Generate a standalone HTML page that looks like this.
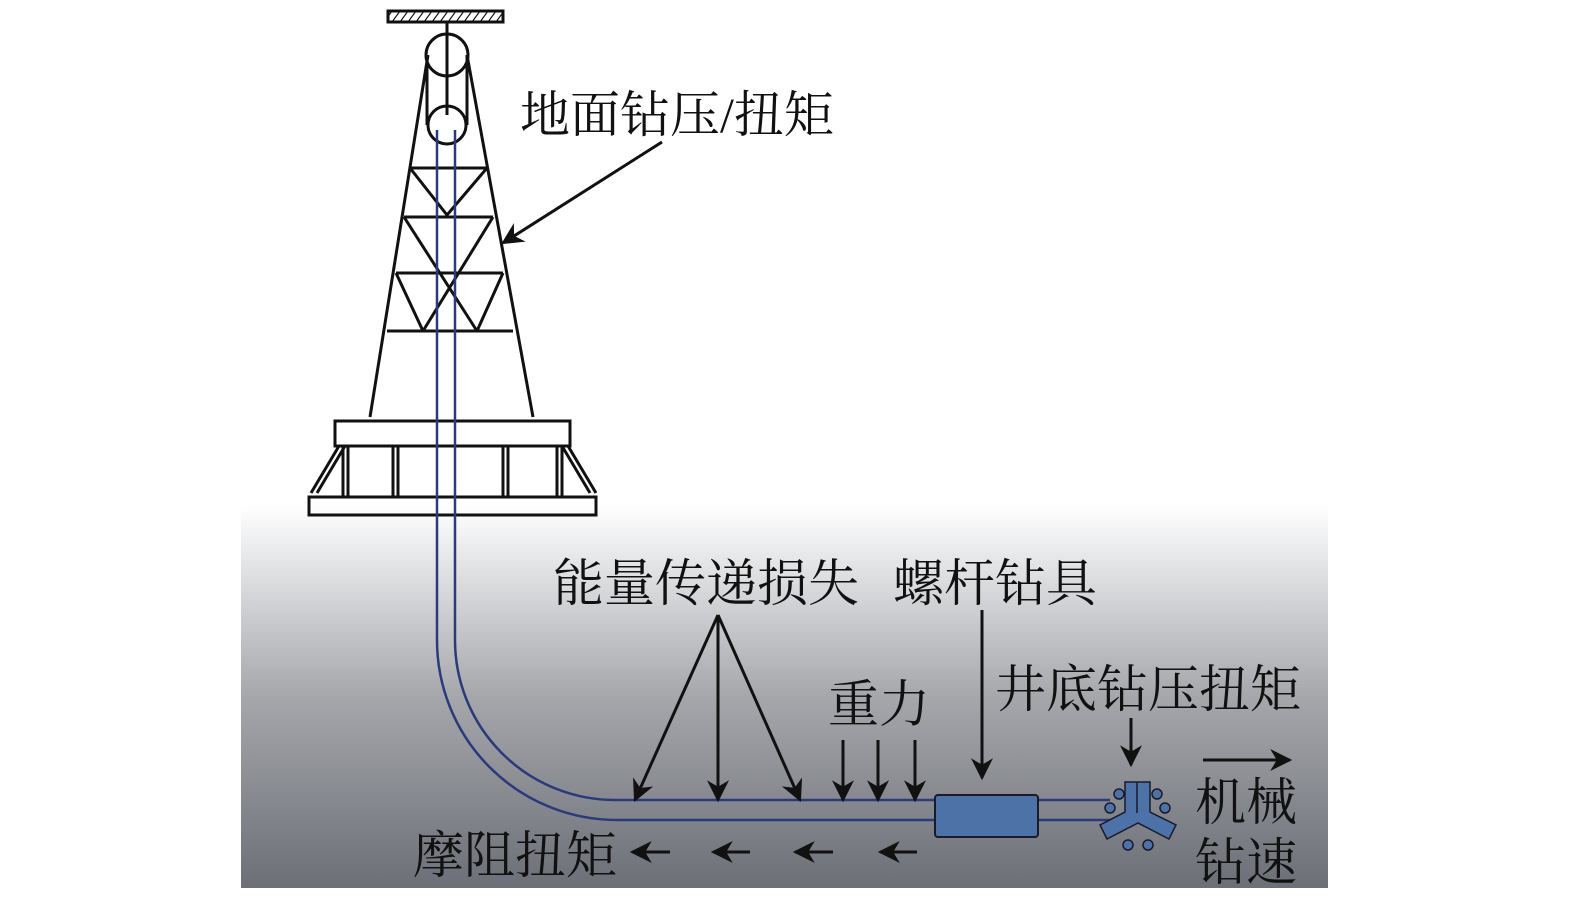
<!DOCTYPE html>
<html><head><meta charset="utf-8"><style>
body{margin:0;width:1575px;height:906px;background:#fff;overflow:hidden}
svg{position:absolute;left:0;top:0}
text{font-family:"Liberation Serif","Noto Serif CJK SC",serif;fill:#111}
</style></head><body>
<svg width="1575" height="906" viewBox="0 0 1575 906">
<defs>
<linearGradient id="g" x1="0" y1="0" x2="0" y2="1">
<stop offset="0" stop-color="#ffffff"/><stop offset="0.15" stop-color="#e4e5e7"/><stop offset="0.5" stop-color="#a5a7ab"/><stop offset="1" stop-color="#6c6f77"/>
</linearGradient>
<marker id="a" viewBox="0 0 10 10" refX="9" refY="5" markerWidth="28" markerHeight="22" markerUnits="userSpaceOnUse" orient="auto"><path d="M0,0L10,5L0,10L3,5z" fill="#111"/></marker>
<marker id="b" viewBox="0 0 10 10" refX="9" refY="5" markerWidth="26" markerHeight="22" markerUnits="userSpaceOnUse" orient="auto"><path d="M0,0L10,5L0,10L3,5z" fill="#111"/></marker>
<pattern id="h" width="8" height="11" patternUnits="userSpaceOnUse"><path d="M0,11L8,0" stroke="#111" stroke-width="1.2"/></pattern>
</defs>
<rect x="241" y="505" width="1087" height="383" fill="url(#g)"/>
<g stroke="#111" stroke-width="3" fill="none">
<rect x="388" y="11" width="115" height="11" fill="url(#h)"/>
<line x1="447" y1="22" x2="447" y2="115"/>
<circle cx="447" cy="55" r="21"/><circle cx="447" cy="125" r="19"/>
<line x1="428" y1="55" x2="370" y2="417"/><line x1="467" y1="55" x2="533" y2="417"/>
<line x1="427" y1="55" x2="427" y2="125"/><line x1="467" y1="55" x2="467" y2="125"/>
<line x1="410" y1="168" x2="487" y2="168"/><line x1="404" y1="217" x2="493" y2="217"/>
<line x1="396" y1="273" x2="503" y2="273"/><line x1="387" y1="331" x2="513" y2="331"/>
<path d="M410,168L447,215L487,168M404,217L477,331M493,217L423,331M396,273L423,331M503,273L477,331"/>
<rect x="335" y="421" width="235" height="25"/>
<rect x="309" y="497" width="287" height="18"/>
<path d="M339,446L311,493M345,446L317,493M568,446L596,493M562,446L590,493"/>
<path d="M343,446v51M348,446v51M393,446v51M398,446v51M503,446v51M508,446v51M557,446v51M562,446v51"/>
</g>
<g stroke="#2b3a7a" stroke-width="2.5" fill="none">
<path d="M437,130V640A180,180 0 0 0 617,820H935"/>
<path d="M455,130V640A160,160 0 0 0 615,800H935"/>
<path d="M1038,800H1110M1038,820H1110"/>
</g>
<rect x="935" y="795" width="103" height="42" rx="3" fill="#4d72a8" stroke="#1a1a2a" stroke-width="2"/>
<g fill="#4d72a8" stroke="#1a1a2a" stroke-width="1.5">
<path d="M1125,782h25v30l26,13l-7,14l-31,-16l-31,16l-7,-14l25,-13z"/>
<line x1="1137" y1="782" x2="1137" y2="813"/>
<circle cx="1119" cy="794" r="5"/><circle cx="1110" cy="808" r="5"/><circle cx="1157" cy="794" r="5"/><circle cx="1165" cy="808" r="5"/><circle cx="1128" cy="845" r="5"/><circle cx="1148" cy="845" r="5"/>
</g>
<g stroke="#111" stroke-width="3" fill="none" marker-end="url(#a)">
<line x1="662" y1="142" x2="503" y2="243"/>
<line x1="718" y1="615" x2="635" y2="800"/><line x1="718" y1="615" x2="718" y2="800"/><line x1="718" y1="615" x2="800" y2="800"/>
<line x1="843" y1="740" x2="843" y2="800"/><line x1="878" y1="740" x2="878" y2="800"/><line x1="915" y1="740" x2="915" y2="800"/>
<line x1="982" y1="610" x2="982" y2="778"/>
<line x1="1131" y1="718" x2="1131" y2="765"/>
<line x1="1203" y1="760" x2="1290" y2="760"/>
</g>
<g stroke="#111" stroke-width="3" fill="none" marker-end="url(#b)">
<line x1="670" y1="852" x2="632" y2="852"/><line x1="750" y1="852" x2="713" y2="852"/><line x1="833" y1="852" x2="795" y2="852"/><line x1="917" y1="852" x2="880" y2="852"/>
</g>
<g font-size="51">
<text x="520" y="132" font-size="50">地面钻压/扭矩</text>
<text x="553" y="601">能量传递损失</text>
<text x="893" y="601">螺杆钻具</text>
<text x="828" y="722">重力</text>
<text x="995" y="707">井底钻压扭矩</text>
<text x="1195" y="820">机械</text>
<text x="1195" y="880">钻速</text>
<text x="413" y="873">摩阻扭矩</text>
</g>
</svg>
</body></html>
